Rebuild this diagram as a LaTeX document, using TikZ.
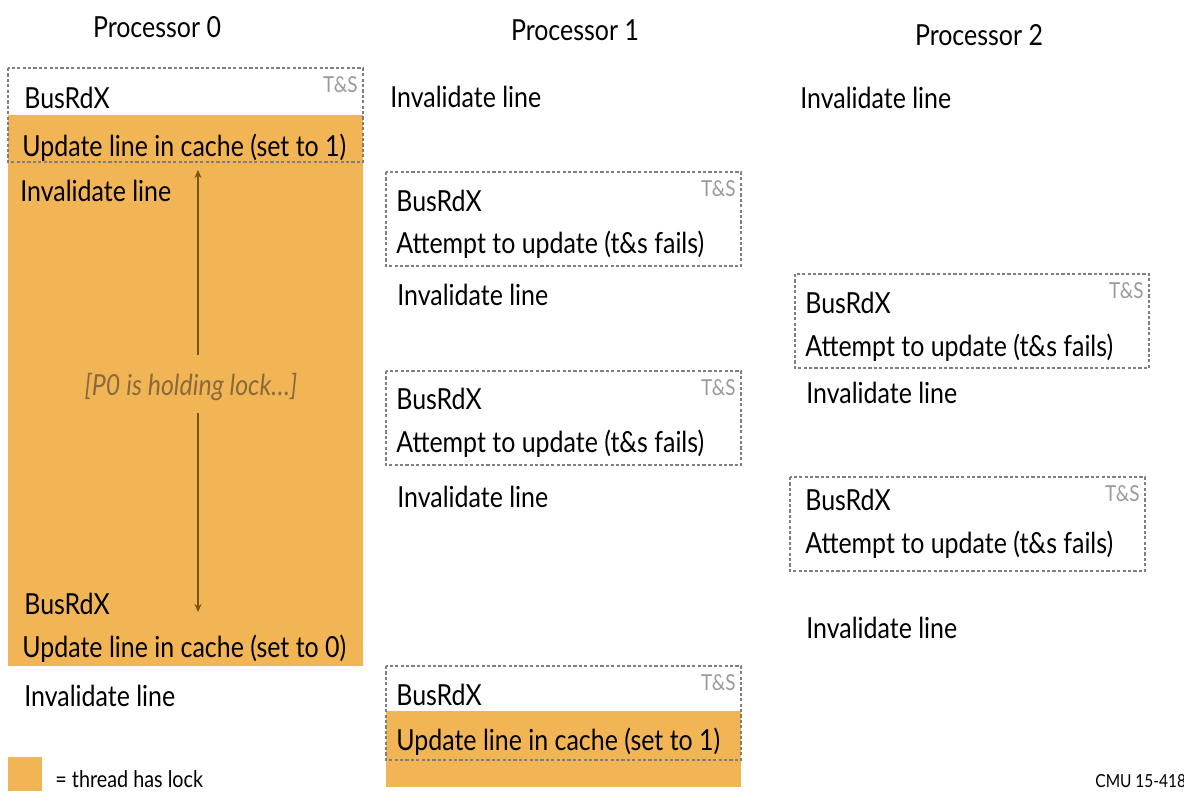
\documentclass[tikz,border=0pt]{standalone}
\usepackage{fontspec}
\setmainfont{Lato}[FakeStretch=0.86]
\usetikzlibrary{arrows.meta, positioning}
\definecolor{lockfill}{HTML}{F2B556}
\definecolor{holdbrown}{HTML}{7B5316}
\definecolor{holdtext}{HTML}{8B6A3A}
\definecolor{tsgray}{HTML}{9A9A9A}
\definecolor{dashgray}{HTML}{7F7F7F}

\begin{document}
\begin{tikzpicture}[
    x=0.5pt, y=-0.5pt,
    >={Stealth[length=4pt, width=3.5pt]},
    txt/.style={anchor=base west, inner sep=0pt,
                font=\fontsize{14.5}{16}\selectfont},
    head/.style={anchor=base, inner sep=0pt,
                 font=\fontsize{14.5}{16}\selectfont},
    tsbox/.style={draw=dashgray, line width=0.7pt,
                  dash pattern=on 1.6pt off 1.1pt},
    tslabel/.style={anchor=north east, inner sep=0pt, text=tsgray,
                    font=\fontsize{11}{12}\selectfont}
  ]
  \useasboundingbox (0,0) rectangle (1184,800);

  % Lock regions
  \fill[lockfill] (8,115) rectangle (363,666);
  \fill[lockfill] (386,711) rectangle (741,787);

  % Headers
  \node[head] (h0) at (157,37) {Processor 0};
  \node[head] (h1) at (575,40) {Processor 1};
  \node[head] (h2) at (979,45) {Processor 2};

  % Processor 0
  \node[txt] (p0a) at (24,108) {BusRdX};
  \node[txt] (p0b) at (22,156) {Update line in cache (set to 1)};
  \node[txt] (p0c) at (20,201) {Invalidate line};
  \node[txt] (p0d) at (24,614) {BusRdX};
  \node[txt] (p0e) at (22,657) {Update line in cache (set to 0)};
  \node[txt] (p0f) at (24,706) {Invalidate line};

  \node[inner sep=0pt, text=holdtext,
        font=\fontsize{14.5}{16}\selectfont\itshape] (hold) at (191,387)
    {[P0 is holding lock\dots]};
  \coordinate (holdup) at (198,355);
  \coordinate (holddn) at (198,413);
  \coordinate (lockon) at (198,170);
  \coordinate (lockoff) at (198,612);
  \draw[->, holdbrown, line width=1pt] (holdup) -- (lockon);
  \draw[->, holdbrown, line width=1pt] (holddn) -- (lockoff);

  % Processor 1
  \node[txt] (p1a) at (390,107) {Invalidate line};
  \node[txt] (p1b) at (396,211) {BusRdX};
  \node[txt] (p1c) at (396,253) {Attempt to update (t\&s fails)};
  \node[txt] (p1d) at (397,305) {Invalidate line};
  \node[txt] (p1e) at (396,409) {BusRdX};
  \node[txt] (p1f) at (396,452) {Attempt to update (t\&s fails)};
  \node[txt] (p1g) at (397,507) {Invalidate line};
  \node[txt] (p1h) at (396,705) {BusRdX};
  \node[txt] (p1i) at (396,750) {Update line in cache (set to 1)};

  % Processor 2
  \node[txt] (p2a) at (800,108) {Invalidate line};
  \node[txt] (p2b) at (805,313) {BusRdX};
  \node[txt] (p2c) at (805,356) {Attempt to update (t\&s fails)};
  \node[txt] (p2d) at (806,403) {Invalidate line};
  \node[txt] (p2e) at (805,510) {BusRdX};
  \node[txt] (p2f) at (805,553) {Attempt to update (t\&s fails)};
  \node[txt] (p2g) at (806,638) {Invalidate line};

  % T&S boxes
  \foreach \x/\y/\w/\n in {8/68/355/0, 386/172/355/1, 386/371/355/2,
                           386/666/355/3, 795/274/354/4, 790/477/355/5} {
    \draw[tsbox] (\x,\y) rectangle ++(\w,94);
    \node[tslabel] (ts\n) at ({\x+\w-5},{\y+8}) {T\&S};
  }

  % Legend
  \fill[lockfill] (8,757) rectangle (42,791);
  \node[anchor=base west, inner sep=0pt,
        font=\fontsize{11.5}{12}\selectfont] (key) at (55,787)
    {= thread has lock};
  \node[anchor=base west, inner sep=0pt,
        font=\fontsize{9}{10}\selectfont] (cmu) at (1095,787)
    {CMU 15-418/618};
\end{tikzpicture}
\end{document}
